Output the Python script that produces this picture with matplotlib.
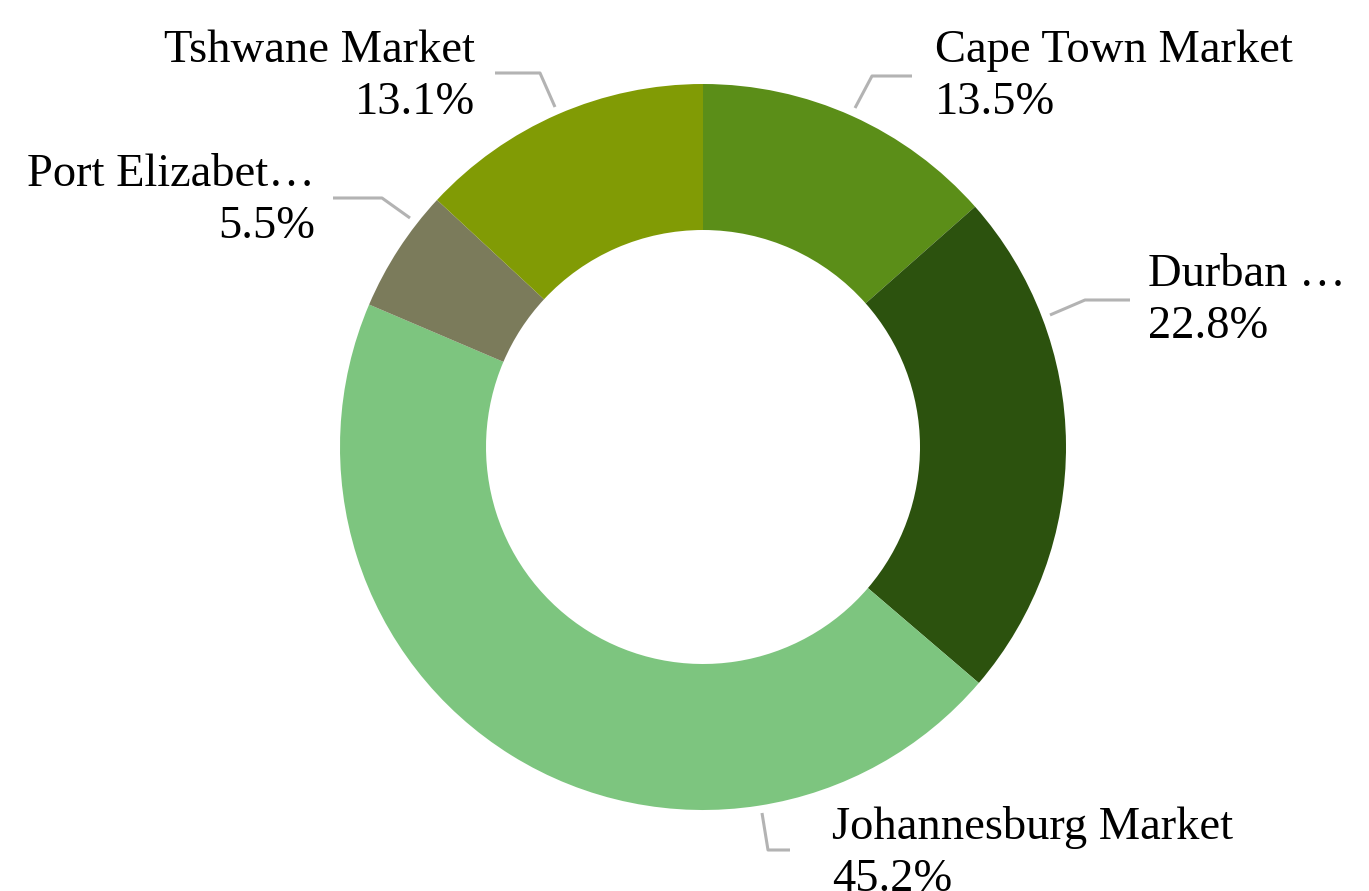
import matplotlib
matplotlib.use("Agg")
import matplotlib.pyplot as plt

# data
markets  = ["Cape Town Market", "Durban …", "Johannesburg Market", "Port Elizabet…", "Tshwane Market"]
shares   = [13.5, 22.8, 45.2, 5.5, 13.1]
colors   = ["#5b8e18", "#2c520e", "#7dc57f", "#7b7b5b", "#819b05"]

W, H = 1369, 891
plt.rcParams["font.family"] = ["Liberation Serif", "DejaVu Serif"]

fig = plt.figure(figsize=(W / 100, H / 100), dpi=100)
ax = fig.add_axes([0, 0, 1, 1])

R_OUT, R_IN = 363, 217
# y axis inverted -> counterclock=True draws clockwise on screen
ax.pie(shares, colors=colors, startangle=-90, counterclock=True,
       center=(703, 447), radius=R_OUT, frame=True,
       wedgeprops=dict(width=R_OUT - R_IN, linewidth=0))
ax.set_xlim(0, W)
ax.set_ylim(H, 0)
ax.set_aspect("equal")
ax.axis("off")

# leader lines (pixel coords) and label anchors
leaders = [
    [(855, 108), (872, 76), (912, 76)],
    [(1050, 315), (1085, 300), (1130, 300)],
    [(762, 813), (768, 850), (790, 850)],
    [(410, 218), (382, 198), (333, 198)],
    [(555, 107), (540, 73), (495, 73)],
]
anchors = [(935, 'left'), (1148, 'left'), (832, 'left'), (315, 'right'), (475, 'right')]
baselines = [62, 286, 839, 186, 62]

fs = 33.5
for lab, val, pts, (x, ha), yb in zip(markets, shares, leaders, anchors, baselines):
    xs, ys = zip(*pts)
    ax.plot(xs, ys, color="#b3b3b3", lw=2.2, solid_capstyle="butt")
    ax.text(x, yb, lab, ha=ha, va="baseline", fontsize=fs, color="black")
    ax.text(x, yb + 52, f"{val:.1f}%", ha=ha, va="baseline", fontsize=fs, color="black")

fig.savefig("out.png", dpi=100)
